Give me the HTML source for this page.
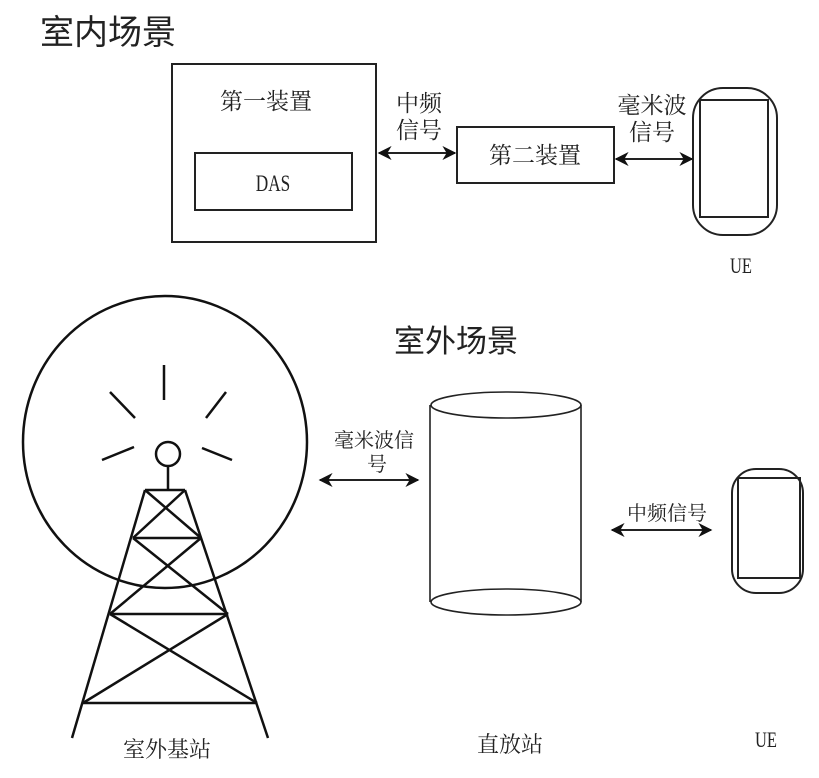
<!DOCTYPE html>
<html><head><meta charset="utf-8"><style>
html,body{margin:0;padding:0;background:#fff;}
svg text{font-family:"Liberation Serif","Noto Serif CJK SC","Noto Sans CJK SC",serif;fill:#222;}
.s{font-family:"Liberation Sans","Noto Sans CJK SC",sans-serif !important;}
</style></head><body>
<svg width="819" height="773" viewBox="0 0 819 773" xmlns="http://www.w3.org/2000/svg">
<defs>
<marker id="a" viewBox="0 0 10 10" refX="9" refY="5" markerWidth="7" markerHeight="7" orient="auto-start-reverse"><path d="M0,0 L10,5 L0,10 L3,5 z" fill="#111"/></marker>
</defs>
<text x="40" y="44" font-size="34" class="s">室内场景</text>
<g fill="none" stroke="#222" stroke-width="2">
<rect x="172" y="64" width="204" height="178"/>
<rect x="195" y="153" width="157" height="57"/>
<rect x="457" y="127" width="157" height="56"/>
<rect x="693" y="88" width="84" height="147" rx="30"/>
<rect x="700" y="100" width="68" height="117"/>
<line x1="379" y1="153" x2="455" y2="153" marker-start="url(#a)" marker-end="url(#a)"/>
<line x1="616" y1="159" x2="692" y2="159" marker-start="url(#a)" marker-end="url(#a)"/>
</g>
<text x="266" y="109" font-size="23" text-anchor="middle">第一装置</text>
<text transform="translate(273,191) scale(0.75,1)" font-size="23" text-anchor="middle">DAS</text>
<text x="535" y="163" font-size="23" text-anchor="middle">第二装置</text>
<text x="419" y="111" font-size="23" text-anchor="middle">中频</text>
<text x="419" y="138" font-size="23" text-anchor="middle">信号</text>
<text x="652" y="113" font-size="23" text-anchor="middle">毫米波</text>
<text x="652" y="140" font-size="23" text-anchor="middle">信号</text>
<text transform="translate(741,273) scale(0.75,1)" font-size="22" text-anchor="middle">UE</text>

<text x="456" y="352" font-size="31" text-anchor="middle" class="s">室外场景</text>
<g fill="none" stroke="#111" stroke-width="2.5">
<ellipse cx="165" cy="442" rx="142" ry="146"/>
<circle cx="168" cy="454" r="12"/>
<line x1="168" y1="466" x2="168" y2="490"/>
<line x1="164" y1="365" x2="164" y2="400"/>
<line x1="110" y1="392" x2="135" y2="418"/>
<line x1="226" y1="392" x2="206" y2="418"/>
<line x1="102" y1="460" x2="134" y2="447"/>
<line x1="202" y1="448" x2="232" y2="460"/>
<line x1="145" y1="490" x2="185" y2="490"/>
<line x1="133" y1="538" x2="201" y2="538"/>
<line x1="110" y1="614" x2="228" y2="614"/>
<line x1="83" y1="703" x2="257" y2="703"/>
<line x1="145" y1="490" x2="72" y2="738"/>
<line x1="185" y1="490" x2="268" y2="738"/>
<line x1="145" y1="490" x2="201" y2="538"/>
<line x1="185" y1="490" x2="133" y2="538"/>
<line x1="133" y1="538" x2="228" y2="614"/>
<line x1="201" y1="538" x2="110" y2="614"/>
<line x1="110" y1="614" x2="257" y2="703"/>
<line x1="228" y1="614" x2="83" y2="703"/>
</g>
<text x="167" y="757" font-size="22" text-anchor="middle">室外基站</text>
<g fill="none" stroke="#222" stroke-width="1.6">
<line x1="430" y1="405" x2="430" y2="602"/>
<line x1="581" y1="405" x2="581" y2="602"/>
<ellipse cx="506" cy="405" rx="75" ry="13"/>
<ellipse cx="506" cy="602" rx="75" ry="13"/>
</g>
<g fill="none" stroke="#222" stroke-width="2">
<rect x="732" y="469" width="71" height="124" rx="24"/>
<rect x="738" y="478" width="62" height="100"/>
<line x1="320" y1="480" x2="418" y2="480" marker-start="url(#a)" marker-end="url(#a)"/>
<line x1="612" y1="530" x2="711" y2="530" marker-start="url(#a)" marker-end="url(#a)"/>
</g>
<text x="374" y="447" font-size="20" text-anchor="middle">毫米波信</text>
<text x="377" y="471" font-size="20" text-anchor="middle">号</text>
<text x="667" y="520" font-size="20" text-anchor="middle">中频信号</text>
<text x="510" y="752" font-size="22" text-anchor="middle">直放站</text>
<text transform="translate(766,747) scale(0.75,1)" font-size="22" text-anchor="middle">UE</text>
</svg>
</body></html>
